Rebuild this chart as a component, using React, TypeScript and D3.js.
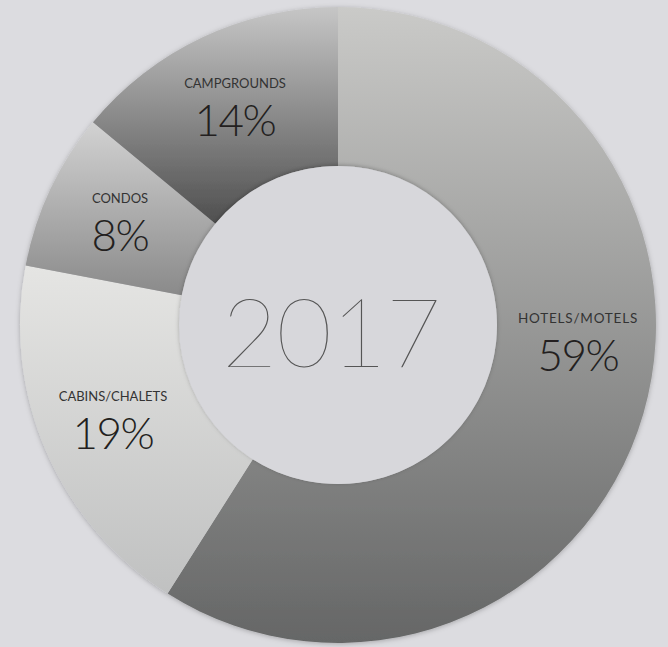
import React from "react";
import * as d3 from "d3";

const categories = ["HOTELS/MOTELS", "CABINS/CHALETS", "CONDOS", "CAMPGROUNDS"];
const values = [59, 19, 8, 14];
const gradTop = ["#cacac8", "#e5e5e3", "#d2d2d2", "#c6c6c6"];
const gradBottom = ["#656666", "#c0c1c1", "#8a8a8a", "#4f4f4f"];
const labelPos: [number, number][] = [
  [578, 323],
  [113, 401],
  [120, 203],
  [235, 88],
];
const centerLabel = "2017";

const W = 668;
const H = 647;
const cx = 338;
const cy = 325;
const outerR = 318;
const innerR = 159;

export default function App() {
  const pie = d3
    .pie<number>()
    .sort(null)
    .startAngle(0)
    .endAngle(2 * Math.PI)(values);
  const arc = d3.arc<d3.PieArcDatum<number>>().innerRadius(innerR).outerRadius(outerR);

  return (
    <svg
      width={W}
      height={H}
      style={{ position: "absolute", left: 0, top: 0, display: "block" }}
    >
      <defs>
        {values.map((_, i) => (
          <linearGradient key={i} id={`g${i}`} x1="0" y1="0" x2="0" y2="1">
            <stop offset="0%" stopColor={gradTop[i]} />
            <stop offset="100%" stopColor={gradBottom[i]} />
          </linearGradient>
        ))}
        <filter id="shadow" x="-10%" y="-10%" width="120%" height="120%">
          <feDropShadow dx="0" dy="1" stdDeviation="2.5" floodColor="#000" floodOpacity="0.25" />
        </filter>
        <filter id="innerShadow" x="-10%" y="-10%" width="120%" height="120%">
          <feDropShadow dx="0" dy="-1" stdDeviation="2" floodColor="#000" floodOpacity="0.25" />
        </filter>
      </defs>
      <rect x={0} y={0} width={W} height={H} fill="#dcdce0" />
      <g transform={`translate(${cx},${cy})`}>
        <g filter="url(#shadow)">
          {pie.map((d, i) => (
            <path key={i} d={arc(d) || ""} fill={`url(#g${i})`} />
          ))}
        </g>
        <circle r={innerR} fill="#d7d7db" filter="url(#innerShadow)" />
      </g>
      {categories.map((c, i) => (
        <g key={c}>
          <text
            x={labelPos[i][0]}
            y={labelPos[i][1]}
            textAnchor="middle"
            fontFamily="Lato, 'Open Sans', sans-serif"
            fontSize={i === 0 ? 13.5 : 13}
            letterSpacing={i === 0 ? 0.8 : 0}
            fill="#333"
          >
            {c}
          </text>
          <text
            x={labelPos[i][0]}
            y={labelPos[i][1] + 48}
            textAnchor="middle"
            fontFamily="Lato, 'Open Sans', sans-serif"
            fontWeight={300}
            fontSize={44}
            letterSpacing={-1.5}
            fill="#231f20"
          >
            {values[i]}%
          </text>
        </g>
      ))}
      <text
        x={331}
        y={367}
        textAnchor="middle"
        fontFamily="Lato, Inter, sans-serif"
        fontWeight={200}
        fontSize={96}
        letterSpacing={-1}
        fill="#555"
      >
        {centerLabel}
      </text>
    </svg>
  );
}
